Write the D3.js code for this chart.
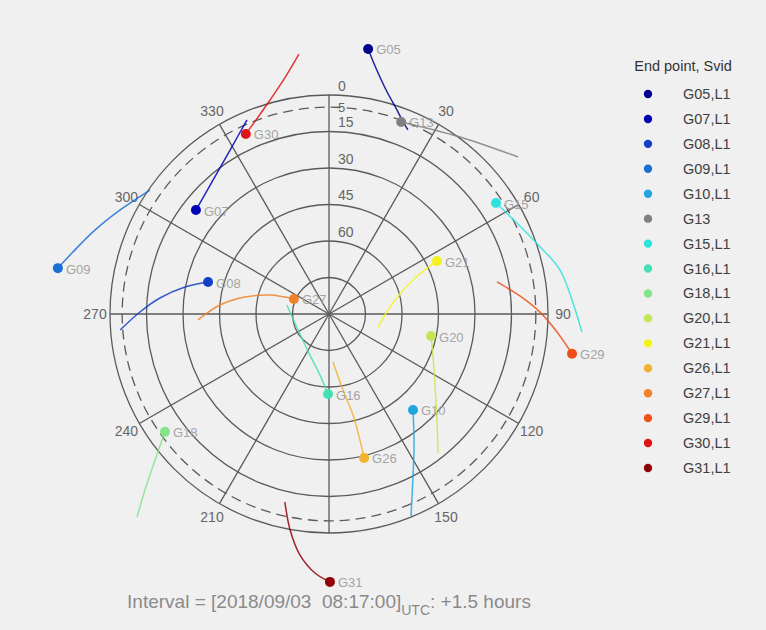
<!DOCTYPE html>
<html>
<head>
<meta charset="utf-8">
<script src="https://cdn.jsdelivr.net/npm/d3@7"></script>
<style>
  html, body { margin: 0; padding: 0; background: #f0f0f0; }
  svg { display: block; font-family: "Liberation Sans", Arial, Helvetica, sans-serif; }
</style>
</head>
<body>
<svg id="chart" width="766" height="630"></svg>
<script>
// Satellite identifiers, in legend order
const svids = ["G05", "G07", "G08", "G09", "G10", "G13", "G15", "G16",
               "G18", "G20", "G21", "G26", "G27", "G29", "G30", "G31"];
const legendLabels = ["G05,L1", "G07,L1", "G08,L1", "G09,L1", "G10,L1", "G13", "G15,L1", "G16,L1",
                      "G18,L1", "G20,L1", "G21,L1", "G26,L1", "G27,L1", "G29,L1", "G30,L1", "G31,L1"];
const colors = ["#00008c", "#0000b4", "#1440c8", "#1a70d2", "#22a6e0", "#808080", "#2ee2e0", "#44e0b4",
                "#84e488", "#c4e654", "#f4f21e", "#f0b432", "#f08228", "#ee5018", "#e01414", "#900008"];

// Track azimuths (deg), first sample to end point
const trackAz = [
  [23.2, 20.5, 18.4, 14.3, 10.8, 8.4],
  [337.1, 328.9, 319.1, 308.0],
  [265.6, 270.6, 275.4, 280.6, 284.8],
  [304.7, 296.5, 289.7, 283.4, 279.6],
  [157.9, 153.2, 147.0, 138.8],
  [50.3, 36.5, 20.6],
  [94.1, 79.2, 71.7, 63.8, 56.4],
  [282.1, 242.7, 204.9, 188.4, 180.7],
  [223.4, 226.3, 230.0, 234.3],
  [141.9, 134.5, 123.8, 111.5, 102.2],
  [104.9, 78.0, 67.3, 63.9],
  [175.2, 169.6, 166.6, 166.2, 166.3],
  [267.4, 274.7, 281.4, 287.8, 293.2],
  [79.2, 84.6, 89.5, 94.5, 99.3],
  [353.4, 349.4, 344.6, 339.4, 335.2],
  [193.2, 190.2, 186.9, 183.1, 179.8]
];
// Track elevations (deg), matching trackAz
const trackEl = [
  [7.7, 4.6, 1.6, -5.0, -12.9, -20.1],
  [3.4, 11.3, 17.2, 20.6],
  [3.9, 12.3, 20.2, 29.8, 38.6],
  [0.5, -5.9, -12.2, -18.5, -23.0],
  [0.4, 13.6, 25.8, 37.6],
  [-11.0, -0.5, 5.7],
  [-14.2, -6.6, -0.5, 4.4, 7.6],
  [72.3, 75.7, 71.4, 64.6, 57.1],
  [-24.8, -14.6, -3.3, 7.0],
  [17.4, 27.8, 37.6, 44.1, 47.1],
  [69.2, 62.3, 51.7, 40.6],
  [70.2, 58.2, 47.3, 36.7, 29.1],
  [36.1, 45.0, 54.8, 64.5, 74.3],
  [19.7, 11.2, 3.3, -4.0, -11.2],
  [-17.5, -8.7, -1.2, 4.8, 8.5],
  [10.6, -0.2, -9.7, -16.6, -20.1]
];

// Grid definitions
const elevationRings = [0, 15, 30, 45, 60, 75];
const elevationLabels = [0, 5, 15, 30, 45, 60];
const maskElevation = 5;
const azimuthSpokes = [0, 30, 60, 90, 120, 150, 180, 210, 240, 270, 300, 330];
const azimuthLabels = [30, 60, 90, 120, 150, 210, 240, 270, 300, 330];
const legendTitle = "End point, Svid";
const intervalStart = "2018/09/03\u00a0\u00a008:17:00";
const intervalHours = "+1.5 hours";

const svg = d3.select("#chart");
const cx = 329, cy = 314, R = 219;
const rad = d3.scaleLinear().domain([90, 0]).range([0, R]);
const toRad = d => d * Math.PI / 180;
const px = (az, el) => [cx + rad(el) * Math.sin(toRad(az)), cy - rad(el) * Math.cos(toRad(az))];

const gridColor = "#5a5a5a";
const plot = svg.append("g").attr("transform", `translate(${cx},${cy})`);

// Elevation rings
plot.selectAll("circle.ring").data(elevationRings).join("circle")
  .attr("class", "ring").attr("r", d => rad(d))
  .attr("fill", "none").attr("stroke", gridColor).attr("stroke-width", 1.3);

// Elevation mask ring
plot.append("circle").attr("r", rad(maskElevation))
  .attr("fill", "none").attr("stroke", gridColor).attr("stroke-width", 1.3)
  .attr("stroke-dasharray", "10,6");

// Azimuth spokes
plot.selectAll("line.spoke").data(azimuthSpokes).join("line")
  .attr("class", "spoke")
  .attr("x1", 0).attr("y1", 0)
  .attr("x2", d => R * Math.sin(toRad(d)))
  .attr("y2", d => -R * Math.cos(toRad(d)))
  .attr("stroke", gridColor).attr("stroke-width", 1.3);

// Azimuth labels
plot.selectAll("text.az").data(azimuthLabels).join("text")
  .attr("class", "az")
  .attr("x", d => (R + 15) * Math.sin(toRad(d)))
  .attr("y", d => -(R + 15) * Math.cos(toRad(d)))
  .attr("text-anchor", "middle").attr("dominant-baseline", "central")
  .attr("font-size", 14).attr("fill", "#666")
  .text(d => d);

// Elevation labels along the north spoke (mask label sits on its dashed ring)
plot.selectAll("text.el").data(elevationLabels).join("text")
  .attr("class", "el")
  .attr("x", 9)
  .attr("y", d => -rad(d) + (d === maskElevation ? 0 : -9.5))
  .attr("dominant-baseline", "central")
  .attr("font-size", d => d === maskElevation ? 13 : 14).attr("fill", "#666")
  .text(d => d);

// Satellite tracks
const tracks = svids.map((id, i) => ({
  id, color: colors[i],
  pts: trackAz[i].map((a, k) => [a, trackEl[i][k]])
}));

const radialLine = d3.lineRadial()
  .angle(d => toRad(d[0]))
  .radius(d => rad(d[1]))
  .curve(d3.curveCatmullRom.alpha(0.5));

plot.selectAll("path.track").data(tracks).join("path")
  .attr("class", "track")
  .attr("d", d => radialLine(d.pts))
  .attr("fill", "none").attr("stroke", d => d.color)
  .attr("stroke-width", 1.5).attr("stroke-opacity", 0.85);

// End points and labels
const ends = tracks.map(t => {
  const e = t.pts[t.pts.length - 1];
  const [x, y] = px(e[0], e[1]);
  return { id: t.id, color: t.color, x, y };
});

svg.selectAll("circle.end").data(ends).join("circle")
  .attr("class", "end")
  .attr("cx", d => d.x).attr("cy", d => d.y).attr("r", 5)
  .attr("fill", d => d.color);

svg.selectAll("text.sv").data(ends).join("text")
  .attr("class", "sv")
  .attr("x", d => d.x + 8).attr("y", d => d.y + 1)
  .attr("dominant-baseline", "central")
  .attr("font-size", 13).attr("fill", "#a4a4a4")
  .text(d => d.id);

// Legend
const legend = svg.append("g");
legend.append("text").attr("x", 683).attr("y", 66)
  .attr("text-anchor", "middle").attr("dominant-baseline", "central")
  .attr("font-size", 14.5).attr("fill", "#333").text(legendTitle);

const ly = d3.scaleLinear().domain([0, legendLabels.length - 1]).range([94, 468]);
const items = legend.selectAll("g.item").data(legendLabels).join("g")
  .attr("class", "item")
  .attr("transform", (d, i) => `translate(0,${ly(i)})`);
items.append("circle").attr("cx", 648).attr("cy", 0).attr("r", 4.2)
  .attr("fill", (d, i) => colors[i]);
items.append("text").attr("x", 683).attr("y", 0)
  .attr("dominant-baseline", "central")
  .attr("font-size", 14.5).attr("fill", "#404040").text(d => d);

// Interval caption
const cap = svg.append("text").attr("x", cx).attr("y", 608)
  .attr("text-anchor", "middle").attr("font-size", 19).attr("fill", "#8a8a8a");
cap.append("tspan").text(`Interval = [${intervalStart}]`);
cap.append("tspan").attr("font-size", 14).attr("dy", 7).text("UTC");
cap.append("tspan").attr("dy", -7).text(`: ${intervalHours}`);
</script>
</body>
</html>
